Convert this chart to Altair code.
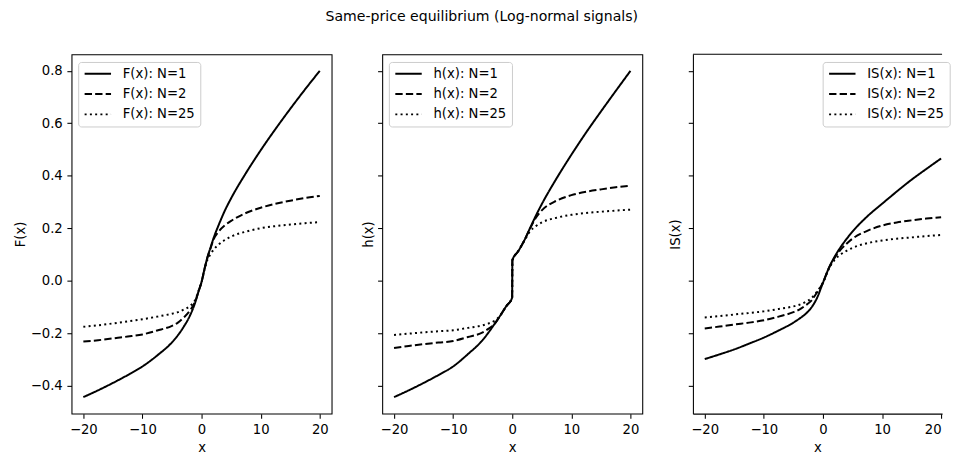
import altair as alt
import pandas as pd

TITLE = "Same-price equilibrium (Log-normal signals)"
X_TICKS = [-20, -10, 0, 10, 20]
Y_TICKS = [-0.4, -0.2, 0.0, 0.2, 0.4, 0.6, 0.8]
Y_DOMAIN = [-0.507, 0.863]
N_LABELS = ["N=1", "N=2", "N=25"]

# Panel 1: F(x)
F_X = [-20, -17.5, -15, -12.5, -10, -7.5, -5, -4, -3, -2, -1, -0.5, 0, 0.5, 1, 1.5, 2, 3, 4, 5, 7.5, 10, 12.5, 15, 17.5, 20]
F_N1 = [-0.444, -0.418, -0.390, -0.360, -0.327, -0.285, -0.235, -0.208, -0.175, -0.135, -0.078, -0.040, -0.005, 0.045, 0.090, 0.125, 0.160, 0.218, 0.270, 0.314, 0.410, 0.497, 0.578, 0.655, 0.729, 0.800]
F_N2 = [-0.232, -0.227, -0.220, -0.213, -0.205, -0.190, -0.172, -0.160, -0.140, -0.115, -0.075, -0.040, -0.005, 0.045, 0.088, 0.122, 0.155, 0.190, 0.212, 0.228, 0.258, 0.278, 0.293, 0.305, 0.315, 0.323]
F_N25 = [-0.176, -0.170, -0.163, -0.155, -0.147, -0.137, -0.126, -0.120, -0.110, -0.097, -0.070, -0.038, -0.005, 0.042, 0.080, 0.100, 0.117, 0.140, 0.156, 0.168, 0.187, 0.200, 0.208, 0.214, 0.219, 0.223]

# Panel 2: h(x)
H_X = [-20, -17.5, -15, -12.5, -10, -7.5, -5, -4, -3, -2, -1, -0.02, 0.02, 1, 2, 3, 4, 5, 7.5, 10, 12.5, 15, 17.5, 20]
H_N1 = [-0.444, -0.418, -0.390, -0.360, -0.327, -0.280, -0.226, -0.197, -0.165, -0.132, -0.097, -0.065, 0.078, 0.112, 0.152, 0.200, 0.248, 0.292, 0.390, 0.480, 0.565, 0.645, 0.723, 0.800]
H_N2 = [-0.257, -0.249, -0.242, -0.236, -0.230, -0.215, -0.197, -0.183, -0.165, -0.132, -0.097, -0.065, 0.078, 0.112, 0.152, 0.198, 0.240, 0.268, 0.305, 0.326, 0.339, 0.348, 0.356, 0.362]
H_N25 = [-0.207, -0.202, -0.197, -0.193, -0.189, -0.180, -0.170, -0.163, -0.153, -0.132, -0.097, -0.065, 0.078, 0.112, 0.150, 0.188, 0.208, 0.222, 0.240, 0.251, 0.258, 0.263, 0.267, 0.271]

# Panel 3: IS(x)
S_X = [-20, -17.5, -15, -12.5, -10, -7.5, -5, -4, -3, -2, -1, 0, 1, 2, 3, 4, 5, 7.5, 10, 12.5, 15, 17.5, 20]
S_N1 = [-0.299, -0.281, -0.262, -0.240, -0.217, -0.190, -0.160, -0.145, -0.128, -0.104, -0.066, -0.008, 0.048, 0.092, 0.128, 0.159, 0.187, 0.245, 0.293, 0.340, 0.385, 0.426, 0.466]
S_N2 = [-0.182, -0.175, -0.167, -0.160, -0.151, -0.137, -0.120, -0.110, -0.095, -0.077, -0.045, -0.008, 0.048, 0.088, 0.118, 0.141, 0.160, 0.190, 0.210, 0.222, 0.230, 0.237, 0.242]
S_N25 = [-0.140, -0.135, -0.129, -0.123, -0.117, -0.108, -0.098, -0.092, -0.082, -0.068, -0.042, -0.008, 0.045, 0.080, 0.100, 0.114, 0.125, 0.143, 0.153, 0.160, 0.165, 0.170, 0.174]

FONT = "DejaVu Sans"
FS = 13.3
DASHES = [[1, 0], [7.4, 3.2], [2, 3.3]]
W = 262
H = 362


def make_panel(xs, series, prefix, width, x_domain, show_labels, legend_x, title_pad, framed):
    names = [f"{prefix}(x): {n}" for n in N_LABELS]
    rows = []
    for name, ys in zip(names, series):
        for i, (xv, yv) in enumerate(zip(xs, ys)):
            rows.append({"x": xv, "y": yv, "series": name, "i": i})
    df = pd.DataFrame(rows)
    lines = alt.Chart(df).mark_line(
        color="black", strokeWidth=2, interpolate="monotone", clip=True
    ).encode(
        x=alt.X("x:Q", scale=alt.Scale(domain=x_domain, nice=False, zero=False),
                axis=alt.Axis(values=X_TICKS, format="d", title="x", domain=not framed)),
        y=alt.Y("y:Q", scale=alt.Scale(domain=Y_DOMAIN, nice=False, zero=False),
                axis=alt.Axis(values=Y_TICKS, format=".1f", labels=show_labels,
                              title=f"{prefix}(x)", titlePadding=title_pad, domain=not framed)),
        strokeDash=alt.StrokeDash(
            "series:N",
            scale=alt.Scale(domain=names, range=DASHES),
            legend=alt.Legend(
                title=None, orient="none", legendX=legend_x, legendY=7.7,
                symbolType="stroke", symbolSize=708, symbolStrokeColor="black",
                symbolStrokeWidth=2, labelFont=FONT, labelFontSize=FS, labelColor="black",
                fillColor="rgba(255,255,255,0.8)", strokeColor="#cccccc", cornerRadius=3,
                padding=5.3, rowPadding=6.5, clipHeight=13, labelOffset=10.6,
            ),
        ),
        order="i:Q",
    )
    if framed:
        return lines.properties(width=width, height=H)
    top = alt.Chart(pd.DataFrame({"a": [0]})).mark_rule(color="black", strokeWidth=1.07).encode(
        y=alt.value(0)
    )
    return alt.layer(lines, top).properties(
        width=width, height=H, view=alt.ViewBackground(stroke="transparent")
    )


p1 = make_panel(F_X, [F_N1, F_N2, F_N25], "F", W, [-22, 22], True, 6.7, 3, True)
p2 = make_panel(H_X, [H_N1, H_N2, H_N25], "h", W, [-22, 22], False, 6.7, 1.3, True)
p3 = make_panel(S_X, [S_N1, S_N2, S_N25], "IS", 251, [-22, 20.16], False, 130.7, 5.6, False)

chart = alt.hconcat(p1, p2, p3, spacing=51, bounds="flush").resolve_scale(
    x="independent", y="independent", strokeDash="independent"
).resolve_legend(strokeDash="independent").properties(
    title=alt.TitleParams(TITLE, fontSize=14.2, font=FONT, fontWeight="normal",
                          anchor="middle", frame="bounds", color="black", offset=29),
    padding={"left": 4, "top": 0, "right": 0, "bottom": 0},
).configure_view(stroke="black", strokeWidth=1.07).configure_axis(
    grid=False, labelFont=FONT, labelFontSize=FS, labelColor="black",
    titleFont=FONT, titleFontSize=FS, titleFontWeight="normal", titleColor="black",
    tickColor="black", tickSize=4.67, tickWidth=1.07, labelPadding=4.67,
    domainColor="black", domainWidth=1.07,
).configure_axisX(titlePadding=4)

chart.save("out.html", embed_options={"renderer": "svg", "actions": False})
